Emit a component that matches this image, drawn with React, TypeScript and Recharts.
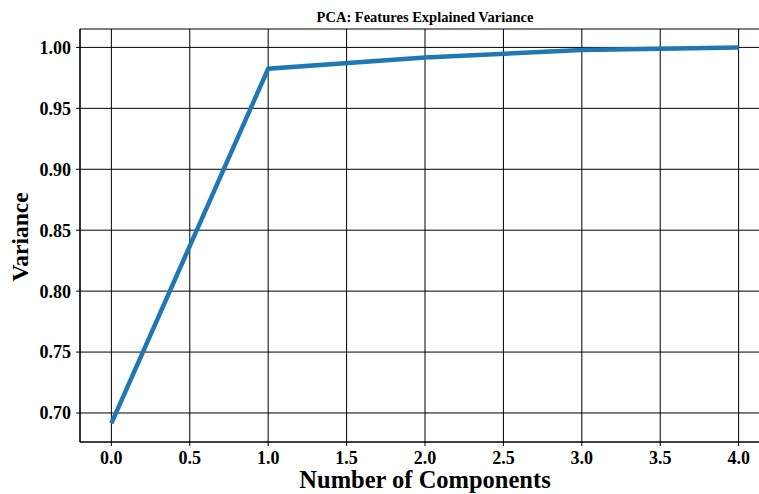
import React from "react";
import { LineChart, Line, XAxis, YAxis, CartesianGrid } from "recharts";

// Cumulative explained variance per principal component
const components = [0, 1, 2, 3, 4];
const cumulativeVariance = [0.6915, 0.9825, 0.9918, 0.9978, 1.0];

const xTicks = [0, 0.5, 1, 1.5, 2, 2.5, 3, 3.5, 4];
const yTicks = [0.7, 0.75, 0.8, 0.85, 0.9, 0.95, 1.0];

const data = components.map((c, i) => ({ component: c, variance: cumulativeVariance[i] }));

const FONT = "'Liberation Serif', 'Times New Roman', serif";
const tickStyle = { fontFamily: FONT, fontWeight: 700, fontSize: 18, fill: "#000" };

export default function App() {
  return (
    <div style={{ position: "absolute", left: 0, top: 0, width: 759, height: 494, overflow: "hidden", background: "#fff" }}>
      <LineChart
        width={780}
        height={494}
        data={data}
        margin={{ top: 29, right: 10, bottom: 0, left: 0 }}
      >
        <CartesianGrid stroke="#000" strokeWidth={1} />
        <XAxis
          xAxisId="top"
          orientation="top"
          dataKey="component"
          type="number"
          domain={[-0.2, 4.2]}
          height={0}
          tick={false}
          tickLine={false}
          axisLine={{ stroke: "#000", strokeWidth: 1.2 }}
        />
        <XAxis
          dataKey="component"
          type="number"
          domain={[-0.2, 4.2]}
          ticks={xTicks}
          tickFormatter={(v: number) => v.toFixed(1)}
          height={52}
          tickSize={4}
          tickMargin={5}
          tick={tickStyle}
          tickLine={{ stroke: "#000" }}
          axisLine={{ stroke: "#000", strokeWidth: 1.2 }}
          interval={0}
        />
        <YAxis
          type="number"
          domain={[0.6762, 1.0151]}
          ticks={yTicks}
          tickFormatter={(v: number) => v.toFixed(2)}
          width={80}
          tickSize={4}
          tickMargin={5}
          tick={tickStyle}
          tickLine={{ stroke: "#000" }}
          axisLine={{ stroke: "#000", strokeWidth: 1.2 }}
          interval={0}
          allowDataOverflow
        />
        <Line
          xAxisId={0}
          type="linear"
          dataKey="variance"
          stroke="#1f77b4"
          strokeWidth={4.5}
          dot={false}
          isAnimationActive={false}
        />
      </LineChart>
      <svg
        width={759}
        height={494}
        style={{ position: "absolute", left: 0, top: 0, pointerEvents: "none" }}
      >
        <text x={425} y={22} textAnchor="middle" fontFamily={FONT} fontWeight={700} fontSize={14.5} fill="#000">
          PCA: Features Explained Variance
        </text>
        <text x={425} y={488} textAnchor="middle" fontFamily={FONT} fontWeight={700} fontSize={24.5} fill="#000">
          Number of Components
        </text>
        <text
          transform="translate(28,237) rotate(-90)"
          textAnchor="middle"
          fontFamily={FONT}
          fontWeight={700}
          fontSize={23.5}
          fill="#000"
        >
          Variance
        </text>
      </svg>
    </div>
  );
}
